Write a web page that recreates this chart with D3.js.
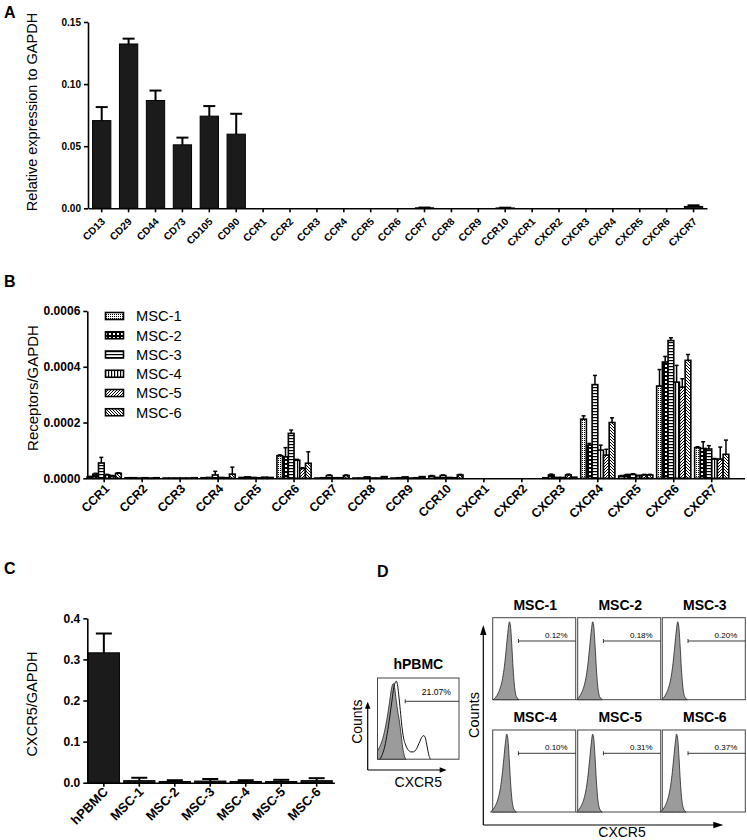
<!DOCTYPE html>
<html><head><meta charset="utf-8">
<script src="https://cdn.jsdelivr.net/npm/d3@7"></script>
<style>body{margin:0;background:#fff}svg{display:block}</style>
</head><body><svg id="c" width="747" height="840"></svg>
<script>
// ---------------- DATA ----------------
// Panel A
const genesA = ["CD13","CD29","CD44","CD73","CD105","CD90","CCR1","CCR2","CCR3","CCR4","CCR5","CCR6","CCR7","CCR8","CCR9","CCR10","CXCR1","CXCR2","CXCR3","CXCR4","CXCR5","CXCR6","CXCR7"];
const valuesA = [0.0706,0.1323,0.0868,0.0511,0.0742,0.0597,0,0,0,0,0,0,0.0004,0,0,0.0003,0,0,0,0,0,0,0.0015];
const semA    = [0.0109,0.0043,0.0080,0.0058,0.0081,0.0164,0,0,0,0,0,0,0.0002,0,0,0.0002,0,0,0,0,0,0,0.0009];
const ticksA  = [0,0.05,0.10,0.15];

// Panel B
const receptorsB = ["CCR1","CCR2","CCR3","CCR4","CCR5","CCR6","CCR7","CCR8","CCR9","CCR10","CXCR1","CXCR2","CXCR3","CXCR4","CXCR5","CXCR6","CXCR7"];
const seriesB = ["MSC-1","MSC-2","MSC-3","MSC-4","MSC-5","MSC-6"];
const msc1B = [0.000005,0.000002,0.000001,0.000002,0.000003,0.000081,0.000001,0.000001,0.000001,0.000008,0,0,0.000002,0.000212,0.000008,0.000331,0.000110];
const msc2B = [0.000015,0.000002,0.000001,0.000003,0.000005,0.000077,0.000002,0.000001,0.000002,0.000003,0,0,0.000012,0.000119,0.000012,0.000417,0.000107];
const msc3B = [0.000055,0.000001,0.000001,0.000012,0.000003,0.000161,0.000010,0.000005,0.000005,0.000010,0,0,0.000003,0.000336,0.000014,0.000494,0.000105];
const msc4B = [0.000012,0.000002,0.000001,0.000003,0.000002,0.000065,0.000002,0.000001,0.000001,0.000003,0,0,0.000003,0.000101,0.000009,0.000345,0.000069];
const msc5B = [0.000008,0.000001,0.000001,0.000002,0.000004,0.000035,0.000002,0.000001,0.000002,0.000002,0,0,0.000012,0.000083,0.000012,0.000327,0.000069];
const msc6B = [0.000018,0.000002,0.000002,0.000015,0.000003,0.000054,0.000010,0.000006,0.000006,0.000012,0,0,0.000004,0.000200,0.000012,0.000423,0.000086];
const msc1SemB = [0.000002,0,0,0,0,0.000003,0,0,0,0.000002,0,0,0,0.000012,0.000002,0.000059,0.000003];
const msc2SemB = [0.000003,0,0,0,0,0.000033,0,0,0,0,0,0,0.000003,0.000006,0.000002,0.000020,0.000024];
const msc3SemB = [0.000020,0,0,0.000013,0,0.000012,0.000002,0,0,0.000002,0,0,0,0.000033,0.000002,0.000010,0.000012];
const msc4SemB = [0.000002,0,0,0,0,0.000003,0,0,0,0,0,0,0,0.000018,0.000002,0.000060,0.000002];
const msc5SemB = [0.000002,0,0,0,0,0.000003,0,0,0,0,0,0,0.000003,0.000021,0.000002,0.000030,0.000043];
const msc6SemB = [0.000002,0,0,0.000025,0,0.000041,0.000002,0,0,0.000002,0,0,0,0.000017,0.000002,0.000021,0.000051];
const ticksB = [0,0.0002,0.0004,0.0006];

// Panel C
const samplesC = ["hPBMC","MSC-1","MSC-2","MSC-3","MSC-4","MSC-5","MSC-6"];
const valuesC  = [0.316,0.005,0.003,0.004,0.003,0.003,0.005];
const semC     = [0.047,0.007,0.003,0.005,0.003,0.004,0.006];
const ticksC   = [0,0.1,0.2,0.3,0.4];

// Panel D (flow cytometry histograms: channel position, % of max counts)
const hpbmcIsoX = [0,3,6,9,12,15,17,18.5,19.6,21,23,25,27,29,31,33,35];
const hpbmcIsoY = [10,16,24,36,52,72,86,92,93,88,72,58,46,30,14,4,0];
const hpbmcStX  = [3,6,9,12,15,18,20,22,23,24.5,26,28,30,32,34,36,38,41,44,48,52,55,57,59,61,63,65];
const hpbmcStY  = [0,6,16,32,52,74,88,95,96,92,80,60,40,26,19,14,11,9,9,13,22,28,29,25,15,5,0];
const hpbmcPct  = "21.07%";
const hpbmcGate = 34;
const mscHistX  = [0,3,6,9,12,14,16,18,19.5,21,22.5,24,25.5,27,29,31];
const mscHistY  = [0,3,8,16,30,45,65,85,95,88,65,38,18,7,2,0];
const mscPeakShift = [0.6,-1.5,-1,-2.6,-1.5,-2.3];
const mscNames  = ["MSC-1","MSC-2","MSC-3","MSC-4","MSC-5","MSC-6"];
const mscPct    = ["0.12%","0.18%","0.20%","0.10%","0.31%","0.37%"];
const mscGate   = 31;

// ---------------- DRAW ----------------
const FONT = '"Liberation Sans", Arial, Helvetica, sans-serif';
const svg = d3.select("#c").attr("font-family", FONT);
const defs = svg.append("defs");

function pat(id, w, h, draw){
  const p = defs.append("pattern").attr("id",id).attr("patternUnits","userSpaceOnUse").attr("width",w).attr("height",h);
  p.append("rect").attr("width",w).attr("height",h).attr("fill","#fff");
  draw(p);
}
pat("p1",2,2,p=>p.append("rect").attr("width",1).attr("height",1).attr("fill","#000"));
pat("p2",4,4,p=>{p.append("rect").attr("width",4).attr("height",4).attr("fill","#000");
                 p.append("rect").attr("x",1).attr("y",1).attr("width",2).attr("height",2).attr("fill","#fff");});
pat("p3",3,3,p=>p.append("rect").attr("width",3).attr("height",1.2).attr("fill","#000"));
pat("p4",3,3,p=>p.append("rect").attr("width",1.2).attr("height",3).attr("fill","#000"));
pat("p5",3,3,p=>p.append("path").attr("d","M0,3L3,0M-1,1L1,-1M2,4L4,2").attr("stroke","#000").attr("stroke-width",1));
pat("p6",3,3,p=>p.append("path").attr("d","M0,0L3,3M-1,2L1,4M2,-1L4,1").attr("stroke","#000").attr("stroke-width",1));
const patIds = ["p1","p2","p3","p4","p5","p6"];

function styleAxis(g, size){
  g.attr("font-family",FONT).attr("font-size",size).attr("font-weight","bold");
  g.selectAll("line").attr("stroke","#000").attr("stroke-width",1.6);
  g.selectAll("path.domain").attr("stroke","#000").attr("stroke-width",1.6);
  g.selectAll("text").attr("fill","#000");
}
function panelLetter(t,x,y){
  svg.append("text").attr("x",x).attr("y",y).attr("font-size",16).attr("font-weight","bold").text(t);
}
function yTitle(t,x,y,size){
  svg.append("text").attr("transform",`translate(${x},${y}) rotate(-90)`).attr("text-anchor","middle")
    .attr("font-size",size).text(t);
}

// ===== Panel A =====
panelLetter("A",4,18);
const xA = d3.scaleBand().domain(genesA).range([88.25,707]).paddingInner(0.32).paddingOuter(0.16);
const yA = d3.scaleLinear().domain([0,0.15]).range([208.3,22]);
const gA = svg.append("g");
gA.selectAll("rect").data(genesA).join("rect")
  .attr("x",d=>xA(d)).attr("width",xA.bandwidth())
  .attr("y",(d,i)=>yA(valuesA[i])).attr("height",(d,i)=>yA(0)-yA(valuesA[i]))
  .attr("fill","#1b1b1b").attr("stroke","#000").attr("stroke-width",1);
genesA.forEach((d,i)=>{
  if(semA[i]<=0) return;
  const cx = xA(d)+xA.bandwidth()/2, y1 = yA(valuesA[i]), y2 = yA(valuesA[i]+semA[i]);
  const cw = Math.min(6, xA.bandwidth()/3);
  gA.append("line").attr("x1",cx).attr("x2",cx).attr("y1",y1).attr("y2",y2).attr("stroke","#000").attr("stroke-width",2);
  gA.append("line").attr("x1",cx-cw).attr("x2",cx+cw).attr("y1",y2).attr("y2",y2).attr("stroke","#000").attr("stroke-width",2);
});
const ayA = svg.append("g").attr("transform","translate(88,0)")
  .call(d3.axisLeft(yA).tickValues(ticksA).tickFormat(d3.format(".2f")).tickSize(4).tickSizeOuter(0));
styleAxis(ayA,10);
const axA = svg.append("g").attr("transform","translate(0,208.3)")
  .call(d3.axisBottom(xA).tickSize(4).tickSizeOuter(0));
styleAxis(axA,10.3);
axA.selectAll(".tick text").attr("y",null).attr("dy",null).attr("text-anchor","end")
  .attr("transform","translate(4,14) rotate(-45)");
yTitle("Relative expression to GAPDH",37,112,14.5);

// ===== Panel B =====
panelLetter("B",4,287);
const xB = d3.scaleBand().domain(receptorsB).range([85.2,730.7]).paddingInner(0.1).paddingOuter(0.05);
const xBi = d3.scaleBand().domain(seriesB).range([0,xB.bandwidth()]);
const yB = d3.scaleLinear().domain([0,0.0006]).range([478.3,311]);
const valsB = [msc1B,msc2B,msc3B,msc4B,msc5B,msc6B];
const semsB = [msc1SemB,msc2SemB,msc3SemB,msc4SemB,msc5SemB,msc6SemB];
const gB = svg.append("g");
receptorsB.forEach((r,ri)=>{
  seriesB.forEach((s,si)=>{
    const v = valsB[si][ri];
    if(v<=0) return;
    const x = xB(r)+xBi(s), w = xBi.bandwidth();
    gB.append("rect").attr("x",x).attr("width",w).attr("y",yB(v)).attr("height",yB(0)-yB(v))
      .attr("fill",`url(#${patIds[si]})`).attr("stroke","#000").attr("stroke-width",1.6);
    const e = semsB[si][ri];
    if(e>0){
      const cx = x+w/2, y2 = yB(v+e);
      gB.append("line").attr("x1",cx).attr("x2",cx).attr("y1",yB(v)).attr("y2",y2).attr("stroke","#000").attr("stroke-width",1.5);
      gB.append("line").attr("x1",cx-2).attr("x2",cx+2).attr("y1",y2).attr("y2",y2).attr("stroke","#000").attr("stroke-width",1.5);
    }
  });
});
const ayB = svg.append("g").attr("transform","translate(87.3,0)")
  .call(d3.axisLeft(yB).tickValues(ticksB).tickFormat(d3.format(".4f")).tickSize(4).tickSizeOuter(0));
styleAxis(ayB,12);
const axB = svg.append("g").attr("transform","translate(0,478.3)")
  .call(d3.axisBottom(xB).tickSize(4).tickSizeOuter(0));
styleAxis(axB,12.3);
axB.select("path.domain").remove();
axB.append("line").attr("x1",87.3).attr("x2",745).attr("y1",0.5).attr("y2",0.5).attr("stroke","#000").attr("stroke-width",1.6);
axB.selectAll(".tick text").attr("y",null).attr("dy",null).attr("text-anchor","end")
  .attr("transform","translate(6,11) rotate(-45)");
yTitle("Receptors/GAPDH",38,388,15);
// legend
const lg = svg.append("g");
seriesB.forEach((s,i)=>{
  const cy = 316 + i*19.25;
  lg.append("rect").attr("x",105.5).attr("y",cy-3.5).attr("width",18).attr("height",7)
    .attr("fill",`url(#${patIds[i]})`).attr("stroke","#000").attr("stroke-width",1.6);
  lg.append("text").attr("x",136).attr("y",cy+5.3).attr("font-size",14.7).text(s);
});

// ===== Panel C =====
panelLetter("C",4,574);
const xC = d3.scaleBand().domain(samplesC).range([86.1,334.4]).paddingInner(0.12).paddingOuter(0.06);
const yC = d3.scaleLinear().domain([0,0.4]).range([782.7,618.3]);
const gC = svg.append("g");
gC.selectAll("rect").data(samplesC).join("rect")
  .attr("x",d=>xC(d)).attr("width",xC.bandwidth())
  .attr("y",(d,i)=>yC(valuesC[i])).attr("height",(d,i)=>yC(0)-yC(valuesC[i]))
  .attr("fill","#1b1b1b").attr("stroke","#000").attr("stroke-width",1);
samplesC.forEach((d,i)=>{
  const cx = xC(d)+xC.bandwidth()/2, y1=yC(valuesC[i]), y2=yC(valuesC[i]+semC[i]);
  gC.append("line").attr("x1",cx).attr("x2",cx).attr("y1",y1).attr("y2",y2).attr("stroke","#000").attr("stroke-width",2);
  gC.append("line").attr("x1",cx-8).attr("x2",cx+8).attr("y1",y2).attr("y2",y2).attr("stroke","#000").attr("stroke-width",2);
});
const ayC = svg.append("g").attr("transform","translate(87.3,0)")
  .call(d3.axisLeft(yC).tickValues(ticksC).tickFormat(d3.format(".1f")).tickSize(4).tickSizeOuter(0));
styleAxis(ayC,12);
const axC = svg.append("g").attr("transform","translate(0,782.7)")
  .call(d3.axisBottom(xC).tickSize(4).tickSizeOuter(0));
styleAxis(axC,13);
axC.selectAll(".tick text").attr("y",null).attr("dy",null).attr("text-anchor","end")
  .attr("transform","translate(5,10) rotate(-45)");
yTitle("CXCR5/GAPDH",37,704,14.5);

// ===== Panel D =====
panelLetter("D",377,577);
function histBox(x0,y0,w,h,iso,stain,gate,pct){
  const g = svg.append("g");
  g.append("rect").attr("x",x0).attr("y",y0).attr("width",w).attr("height",h)
    .attr("fill","#fff").attr("stroke","#444").attr("stroke-width",1);
  const xs = d3.scaleLinear().domain([0,100]).range([x0,x0+w]);
  const ys = d3.scaleLinear().domain([0,100]).range([y0+h,y0]);
  const area = d3.area().x(d=>xs(d[0])).y0(ys(0)).y1(d=>ys(d[1])).curve(d3.curveMonotoneX);
  const line = d3.line().x(d=>xs(d[0])).y(d=>ys(d[1])).curve(d3.curveMonotoneX);
  g.append("path").attr("d",area(iso)).attr("fill","#9b9b9b").attr("stroke","#222").attr("stroke-width",0.8);
  if(stain) g.append("path").attr("d",line(stain)).attr("fill","none").attr("stroke","#111").attr("stroke-width",1);
  const gy = y0+23.3, gx = xs(gate);
  g.append("line").attr("x1",gx).attr("x2",x0+w).attr("y1",gy).attr("y2",gy).attr("stroke","#222").attr("stroke-width",0.9);
  g.append("line").attr("x1",gx).attr("x2",gx).attr("y1",gy-2).attr("y2",gy+2).attr("stroke","#222").attr("stroke-width",0.9);
  g.append("text").attr("x",x0+w-8).attr("y",y0+(stain?17:20)).attr("text-anchor","end")
    .attr("font-size",stain?8.6:8).text(pct);
}
function arrowY(x,yb,yt,len,hw){
  svg.append("line").attr("x1",x).attr("x2",x).attr("y1",yb).attr("y2",yt+len-1).attr("stroke","#000").attr("stroke-width",1.2);
  svg.append("path").attr("d",`M${x},${yt}L${x-hw},${yt+len}L${x+hw},${yt+len}Z`).attr("fill","#000");
}
function arrowX(y,xl,xr,len,hw){
  svg.append("line").attr("x1",xl).attr("x2",xr-len+1).attr("y1",y).attr("y2",y).attr("stroke","#000").attr("stroke-width",1.2);
  svg.append("path").attr("d",`M${xr},${y}L${xr-len},${y-hw}L${xr-len},${y+hw}Z`).attr("fill","#000");
}
// hPBMC
const iso = hpbmcIsoX.map((x,i)=>[x,hpbmcIsoY[i]]);
const st = hpbmcStX.map((x,i)=>[x,hpbmcStY[i]]);
histBox(377.5,678,81.5,81.2,iso,st,hpbmcGate,hpbmcPct);
svg.append("text").attr("x",418.3).attr("y",669).attr("text-anchor","middle").attr("font-size",14).attr("font-weight","bold").text("hPBMC");
arrowY(367.7,770,701.7,7,2.8);
arrowX(770,367.7,446.7,7,2.8);
yTitle("Counts",361.5,721.7,14);
svg.append("text").attr("x",418.3).attr("y",786.5).attr("text-anchor","middle").attr("font-size",14).text("CXCR5");
// MSC grid
const colX = [492.7,577.7,662.3], rowY = [617.7,730];
mscNames.forEach((n,i)=>{
  const c = i%3, r = Math.floor(i/3);
  const x0 = colX[c], y0 = rowY[r];
  const hist = mscHistX.map((x,k)=>[x+mscPeakShift[i], mscHistY[k]]);
  histBox(x0,y0,83,82,hist,null,mscGate,mscPct[i]);
  svg.append("text").attr("x",x0+42.5).attr("y",y0-8).attr("text-anchor","middle")
    .attr("font-size",14).attr("font-weight","bold").text(n);
});
arrowY(483.3,825,625,10,3.2);
arrowX(825,483.3,723.3,10,3.2);
yTitle("Counts",478.5,715,14.5);
svg.append("text").attr("x",622).attr("y",836.5).attr("text-anchor","middle").attr("font-size",14).text("CXCR5");
</script></body></html>
